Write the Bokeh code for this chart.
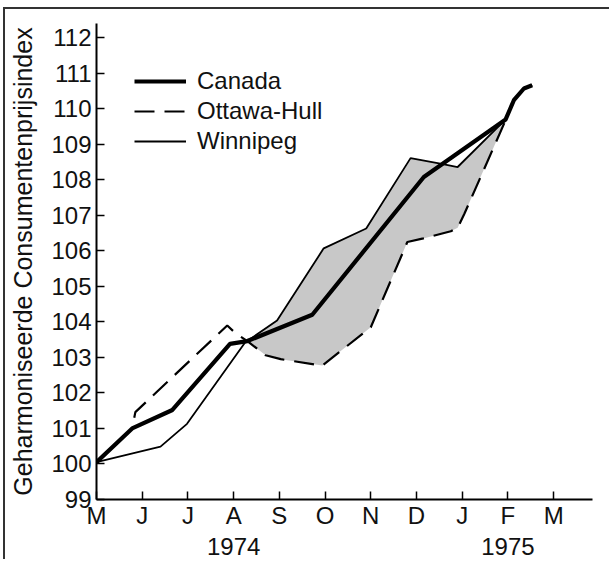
from bokeh.plotting import figure
from bokeh.models import Range1d, FixedTicker, LinearAxis, Legend, LegendItem
from bokeh.embed import file_html
from bokeh.resources import INLINE

# ---- data -------------------------------------------------------------
months = ["M", "J", "J", "A", "S", "O", "N", "D", "J", "F", "M"]
month_pos = list(range(len(months)))          # May 1974 .. March 1975
years = ["1974", "1975"]
year_pos = [3, 9]
y_ticks = list(range(99, 113))

canada_x = [0, 0.78, 1.66, 2.92, 3.3, 4.72, 7.16, 8.95, 9.13, 9.35, 9.53]
canada_y = [100.05, 101.0, 101.52, 103.38, 103.46, 104.2, 108.08, 109.7, 110.24, 110.57, 110.66]

ottawa_x = [0, 0.78, 0.85, 2.86, 3.04, 3.3, 3.7, 4.03, 4.94, 6.0, 6.8, 7.15, 7.75, 7.9, 8.05, 8.95, 9.13, 9.35, 9.53]
ottawa_y = [100.05, 101.0, 101.46, 103.9, 103.68, 103.46, 103.06, 102.95, 102.77, 103.85, 106.25, 106.35, 106.55, 106.65, 107.05, 109.68, 110.24, 110.57, 110.66]

winnipeg_x = [0, 1.4, 1.98, 3.25, 3.95, 4.97, 5.9, 6.87, 7.55, 7.9, 8.95, 9.13, 9.35, 9.53]
winnipeg_y = [100.05, 100.49, 101.13, 103.42, 104.04, 106.07, 106.63, 108.61, 108.45, 108.36, 109.7, 110.24, 110.57, 110.66]

# shaded band between Winnipeg (upper) and Ottawa-Hull (lower)
band_x = winnipeg_x[3:11] + ottawa_x[5:16][::-1]
band_y = winnipeg_y[3:11] + ottawa_y[5:16][::-1]

FONT = "Liberation Sans"

p = figure(width=606, height=552, output_backend="svg", toolbar_location=None,
           x_range=Range1d(0, 10.85), y_range=Range1d(99, 112.4),
           min_border_left=91, min_border_right=19, min_border_top=14,
           min_border_bottom=62)
p.styles = {"margin-top": "7px", "margin-left": "3px",
            "border-top": "2px solid #333", "border-left": "2px solid #333"}

p.grid.visible = False
p.outline_line_color = None
p.background_fill_color = "white"
p.border_fill_color = "white"

# axes
for ax in (p.xaxis[0], p.yaxis[0]):
    ax.axis_line_width = 2
    ax.axis_line_color = "black"
    ax.major_tick_in = 8
    ax.major_tick_out = 0
    ax.major_tick_line_width = 1.5
    ax.minor_tick_line_color = None
    ax.major_label_text_font = FONT
    ax.major_label_text_font_size = "24px"
    ax.major_label_text_color = "#111111"

p.xaxis.ticker = FixedTicker(ticks=month_pos)
p.xaxis.major_label_overrides = {i: m for i, m in zip(month_pos, months)}
p.xaxis.major_label_standoff = 2

# second row of x labels: the years
year_axis = LinearAxis(ticker=FixedTicker(ticks=year_pos),
                       major_label_overrides={i: y for i, y in zip(year_pos, years)},
                       axis_line_color=None, major_tick_line_color=None,
                       minor_tick_line_color=None, major_label_standoff=0,
                       major_label_text_font=FONT, major_label_text_font_size="24px",
                       major_label_text_color="#111111")
p.add_layout(year_axis, "below")

p.yaxis.ticker = FixedTicker(ticks=y_ticks)
p.yaxis.major_label_standoff = 5
p.yaxis.axis_label = "Geharmoniseerde Consumentenprijsindex"
p.yaxis.axis_label_text_font = FONT
p.yaxis.axis_label_text_font_size = "25px"
p.yaxis.axis_label_text_font_style = "normal"
p.yaxis.axis_label_text_color = "#111111"
p.yaxis.axis_label_standoff = 11

# band
p.patch(band_x, band_y, fill_color="#c8c8c8", line_color=None)

# lines
r_win = p.line(winnipeg_x, winnipeg_y, line_color="black", line_width=1.8)
r_ott = p.line(ottawa_x, ottawa_y, line_color="black", line_width=2.2, line_dash="20 10")
r_can = p.line(canada_x, canada_y, line_color="black", line_width=4.2)

legend = Legend(items=[LegendItem(label="Canada", renderers=[r_can]),
                       LegendItem(label="Ottawa-Hull", renderers=[r_ott]),
                       LegendItem(label="Winnipeg", renderers=[r_win])],
                location=(38, 343), padding=0, margin=0, spacing=0,
                glyph_width=52, glyph_height=30, label_height=30, label_standoff=11,
                label_text_font=FONT, label_text_font_size="24px",
                label_text_color="#111111", label_text_baseline="middle",
                border_line_color=None, background_fill_alpha=0)
p.add_layout(legend)

open("out.html", "w").write(file_html(p, INLINE))
